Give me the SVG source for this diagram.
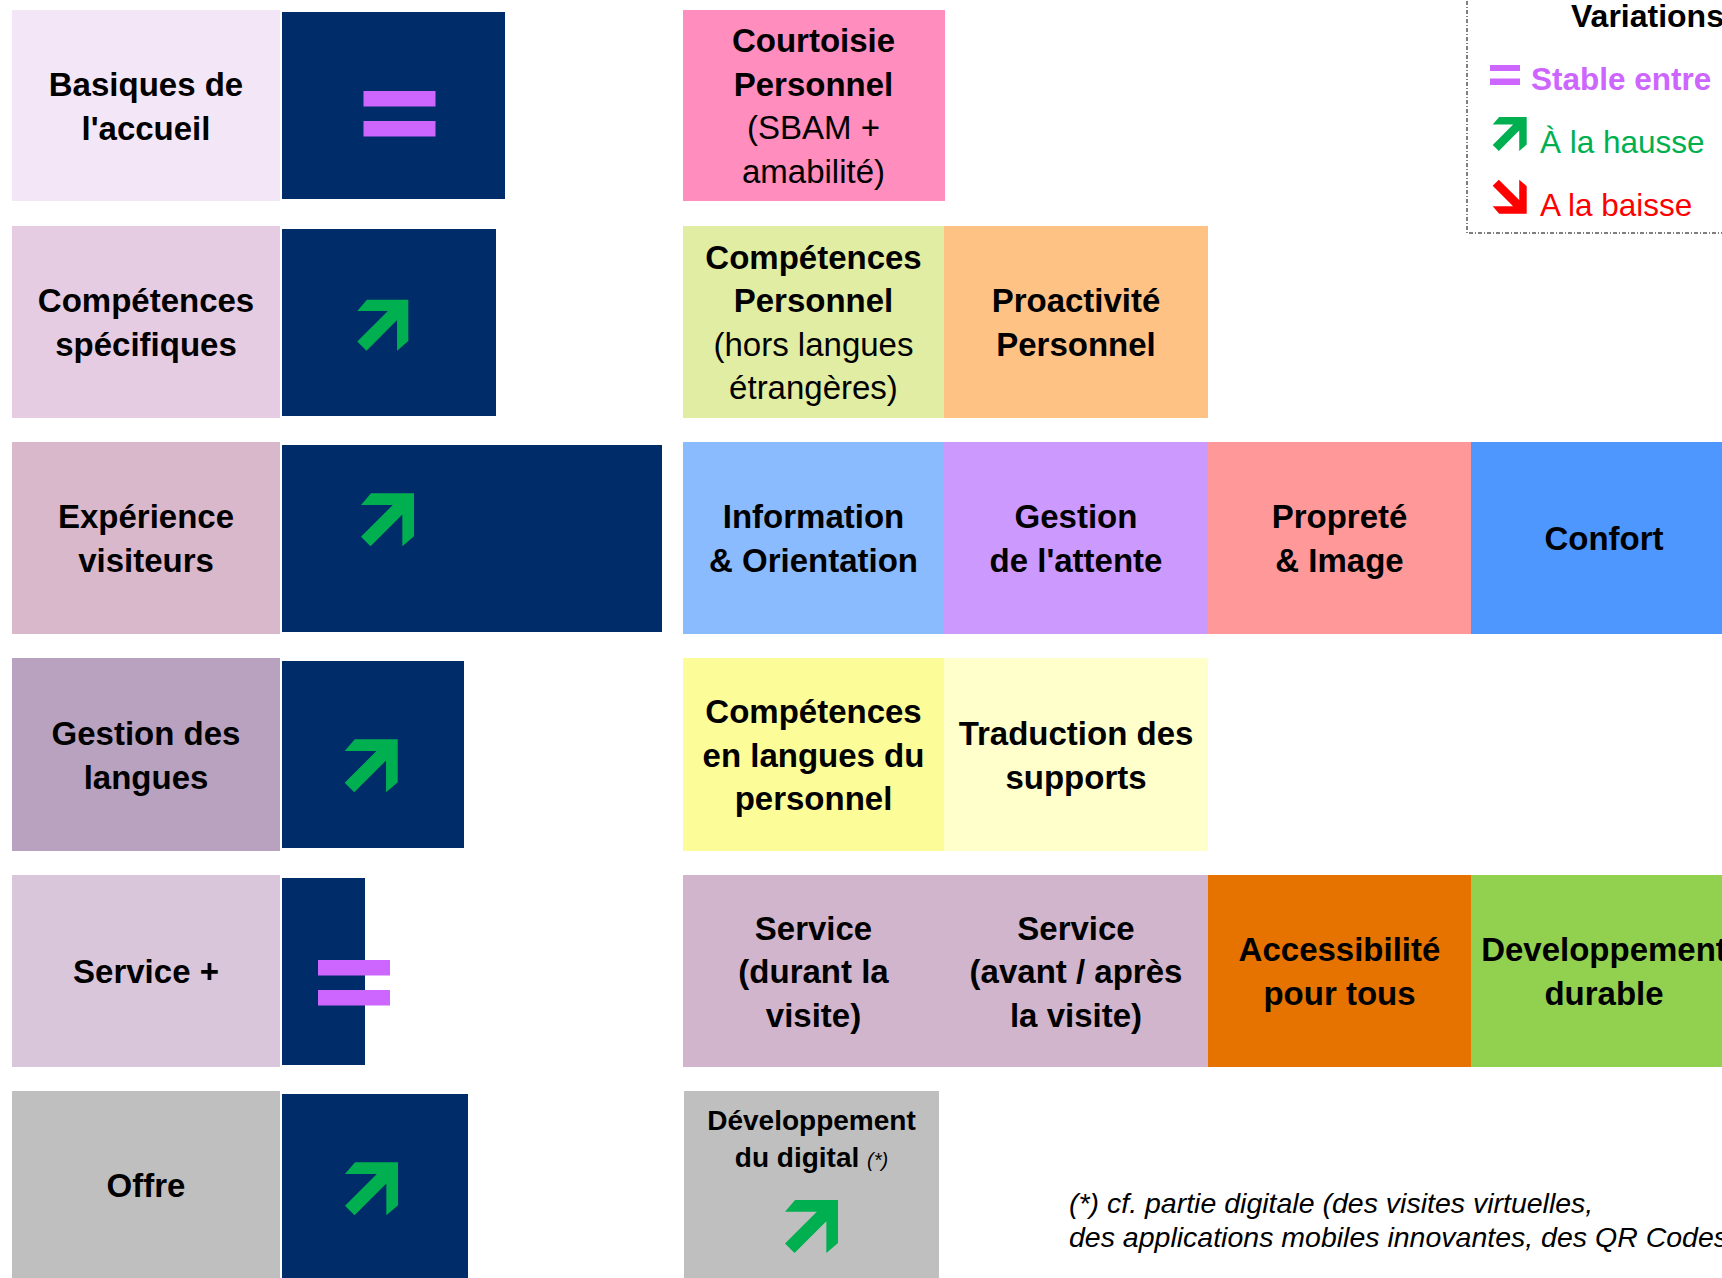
<svg xmlns="http://www.w3.org/2000/svg" xmlns:xlink="http://www.w3.org/1999/xlink" width="1722" height="1278" viewBox="0 0 1722 1278">
<style>
text{font-family:"Liberation Sans",Arial,Helvetica,sans-serif;fill:#000}
.t{font-size:33px;font-weight:bold;text-anchor:middle}
.r{font-weight:normal}
.navy{fill:#002D69}
.eq{fill:#CC66FF}
.up{fill:#00B050}
.down{fill:#FF0000}
.foot{font-size:28.5px;font-style:italic}
</style>
<defs>
<path id="arr" d="M19,0 L100,0 L100,81 L78,100 L78,40 L18,100 L0,82 L60,22 L0,22 Z"/>
</defs>
<rect width="1722" height="1278" fill="#fff"/>

<g id="connectors"></g>

<!-- Row 1 -->
<g id="basiques">
<rect x="12" y="10" width="268" height="191" fill="#F3E6F7"/>
<text class="t"><tspan x="146" y="96">Basiques de</tspan><tspan x="146" y="139.5">l'accueil</tspan></text>
</g>
<g id="var-basiques">
<rect class="navy" x="282" y="12" width="223" height="187"/>
<rect class="eq" x="363.5" y="91" width="72" height="15.5"/>
<rect class="eq" x="363.5" y="121" width="72" height="15.5"/>
</g>
<g id="courtoisie">
<rect x="683" y="10" width="262" height="191" fill="#FF8DBE"/>
<text class="t"><tspan x="813.5" y="52">Courtoisie</tspan><tspan x="813.5" y="95.5">Personnel</tspan><tspan class="r" x="813.5" y="139">(SBAM +</tspan><tspan class="r" x="813.5" y="182.5">amabilité)</tspan></text>
</g>

<!-- Row 2 -->
<g id="competences-specifiques">
<rect x="12" y="226" width="268" height="192" fill="#E5CCE3"/>
<text class="t"><tspan x="146" y="312">Compétences</tspan><tspan x="146" y="355.5">spécifiques</tspan></text>
</g>
<g id="var-competences">
<rect class="navy" x="282" y="229" width="214" height="187"/>
<use href="#arr" class="up" transform="translate(357.3,299.7) scale(0.51)"/>
</g>
<g id="competences-personnel">
<rect x="683" y="226" width="261" height="192" fill="#E0EDA2"/>
<text class="t"><tspan x="813.5" y="268.5">Compétences</tspan><tspan x="813.5" y="312">Personnel</tspan><tspan class="r" x="813.5" y="355.5">(hors langues</tspan><tspan class="r" x="813.5" y="399">étrangères)</tspan></text>
</g>
<g id="proactivite">
<rect x="944" y="226" width="264" height="192" fill="#FFC285"/>
<text class="t"><tspan x="1076" y="312">Proactivité</tspan><tspan x="1076" y="355.5">Personnel</tspan></text>
</g>

<!-- Row 3 -->
<g id="experience">
<rect x="12" y="442" width="268" height="192" fill="#D9B8CB"/>
<text class="t"><tspan x="146" y="528">Expérience</tspan><tspan x="146" y="571.5">visiteurs</tspan></text>
</g>
<g id="var-experience">
<rect class="navy" x="282" y="445" width="380" height="187"/>
<use href="#arr" class="up" transform="translate(361,493.3) scale(0.53)"/>
</g>
<g id="information">
<rect x="683" y="442" width="261" height="192" fill="#8BBBFF"/>
<text class="t"><tspan x="813.5" y="528">Information</tspan><tspan x="813.5" y="571.5">&amp; Orientation</tspan></text>
</g>
<g id="attente">
<rect x="944" y="442" width="264" height="192" fill="#CC99FF"/>
<text class="t"><tspan x="1076" y="528">Gestion</tspan><tspan x="1076" y="571.5">de l'attente</tspan></text>
</g>
<g id="proprete">
<rect x="1208" y="442" width="263" height="192" fill="#FF9999"/>
<text class="t"><tspan x="1339.5" y="528">Propreté</tspan><tspan x="1339.5" y="571.5">&amp; Image</tspan></text>
</g>
<g id="confort">
<rect x="1471" y="442" width="251" height="192" fill="#4D97FF"/>
<text class="t" x="1604" y="550">Confort</text>
</g>

<!-- Row 4 -->
<g id="langues">
<rect x="12" y="658" width="268" height="193" fill="#B8A2C0"/>
<text class="t"><tspan x="146" y="745">Gestion des</tspan><tspan x="146" y="788.5">langues</tspan></text>
</g>
<g id="var-langues">
<rect class="navy" x="282" y="661" width="182" height="187"/>
<use href="#arr" class="up" transform="translate(344.7,739.3) scale(0.53)"/>
</g>
<g id="competences-langues">
<rect x="683" y="658" width="261" height="193" fill="#FCFC99"/>
<text class="t"><tspan x="813.5" y="723">Compétences</tspan><tspan x="813.5" y="766.5">en langues du</tspan><tspan x="813.5" y="810">personnel</tspan></text>
</g>
<g id="traduction">
<rect x="944" y="658" width="264" height="193" fill="#FFFFCC"/>
<text class="t"><tspan x="1076" y="745">Traduction des</tspan><tspan x="1076" y="788.5">supports</tspan></text>
</g>

<!-- Row 5 -->
<g id="service-plus">
<rect x="12" y="875" width="268" height="192" fill="#D9C6DB"/>
<text class="t" x="146" y="983">Service +</text>
</g>
<g id="var-service">
<rect class="navy" x="282" y="878" width="83" height="187"/>
<rect class="eq" x="318" y="960" width="72" height="15.5"/>
<rect class="eq" x="318" y="990" width="72" height="15.5"/>
</g>
<g id="service-durant">
<rect x="683" y="875" width="262" height="192" fill="#D1B5CC"/>
<text class="t"><tspan x="813.5" y="939.5">Service</tspan><tspan x="813.5" y="983">(durant la</tspan><tspan x="813.5" y="1026.5">visite)</tspan></text>
</g>
<g id="service-avant">
<rect x="944" y="875" width="264" height="192" fill="#D1B5CC"/>
<text class="t"><tspan x="1076" y="939.5">Service</tspan><tspan x="1076" y="983">(avant / après</tspan><tspan x="1076" y="1026.5">la visite)</tspan></text>
</g>
<g id="accessibilite">
<rect x="1208" y="875" width="263" height="192" fill="#E67300"/>
<text class="t"><tspan x="1339.5" y="961">Accessibilité</tspan><tspan x="1339.5" y="1004.5">pour tous</tspan></text>
</g>
<g id="developpement-durable">
<rect x="1471" y="875" width="251" height="192" fill="#92D050"/>
<text class="t"><tspan x="1604" y="961">Developpement</tspan><tspan x="1604" y="1004.5">durable</tspan></text>
</g>

<!-- Row 6 -->
<g id="offre">
<rect x="12" y="1091" width="268" height="187" fill="#BFBFBF"/>
<text class="t" x="146" y="1197">Offre</text>
</g>
<g id="var-offre">
<rect class="navy" x="282" y="1094" width="186" height="184"/>
<use href="#arr" class="up" transform="translate(345,1162.3) scale(0.53)"/>
</g>
<g id="digital">
<rect x="684" y="1091" width="255" height="187" fill="#BFBFBF"/>
<text class="t" style="font-size:28px"><tspan x="811.5" y="1130">Développement</tspan><tspan x="811.5" y="1167">du digital <tspan style="font-size:20px;font-weight:normal;font-style:italic">(*)</tspan></tspan></text>
<use href="#arr" class="up" transform="translate(785,1200) scale(0.53)"/>
</g>

<!-- Footnote -->
<g id="footnote">
<text class="foot"><tspan x="1069" y="1213">(*) cf. partie digitale (des visites virtuelles,</tspan><tspan x="1069" y="1247">des applications mobiles innovantes, des QR Codes</tspan></text>
</g>

<!-- Legend -->
<g id="legend">
<rect x="1467" y="-10" width="300" height="243" fill="none" stroke="#555" stroke-width="1.5" stroke-dasharray="4 2 1 2"/>
<text x="1571" y="27" style="font-size:32px;font-weight:bold">Variations</text>
<rect class="eq" x="1490" y="65" width="30" height="6"/>
<rect class="eq" x="1490" y="78.5" width="30" height="6.5"/>
<text x="1531" y="90" style="font-size:31.5px;font-weight:bold;fill:#CC66FF">Stable entre</text>
<use href="#arr" class="up" transform="translate(1492.7,117) scale(0.34)"/>
<text x="1540" y="153" style="font-size:31.5px;fill:#00B050">À la hausse</text>
<use href="#arr" class="down" transform="translate(1492.7,213.7) scale(0.34,-0.34)"/>
<text x="1540" y="216" style="font-size:31.5px;fill:#FF0000">A la baisse</text>
</g>
</svg>
